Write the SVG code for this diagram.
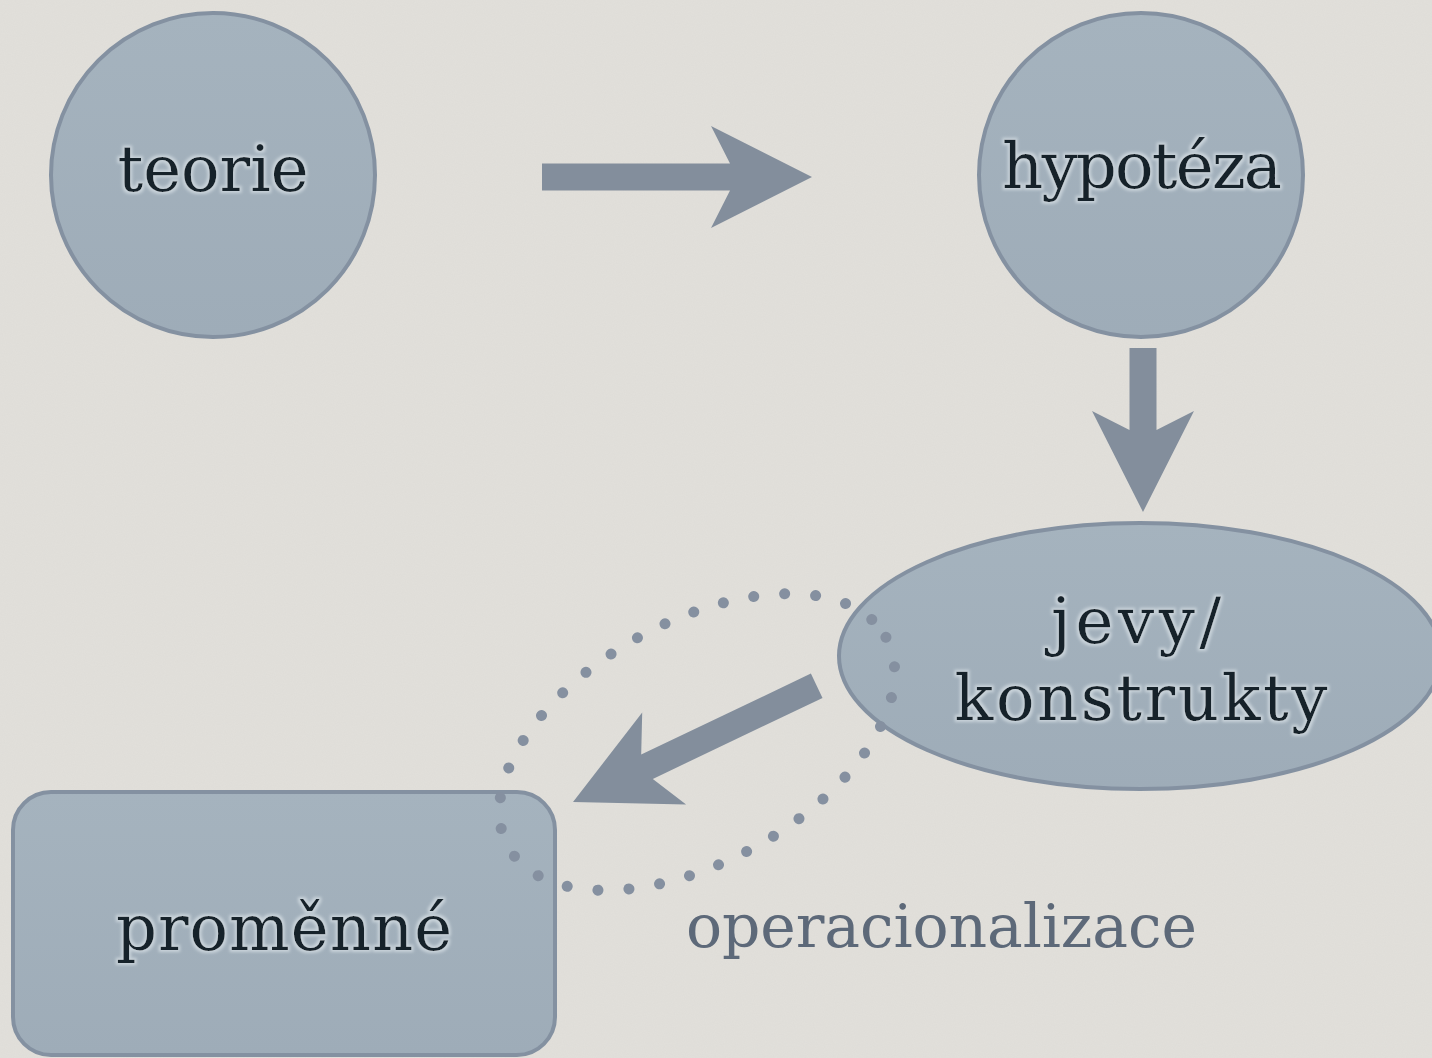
<svg xmlns="http://www.w3.org/2000/svg" width="1432" height="1058" viewBox="0 0 1432 1058">
  <defs>
    <filter id="noise" x="0" y="0" width="100%" height="100%">
      <feTurbulence type="fractalNoise" baseFrequency="0.9" numOctaves="2" seed="3" result="n"/>
      <feColorMatrix in="n" type="matrix" values="0 0 0 0 0.5  0 0 0 0 0.5  0 0 0 0 0.48  0 0 0 0.10 0"/>
    </filter>
    <filter id="glow" x="-10%" y="-20%" width="120%" height="140%">
      <feMorphology in="SourceAlpha" operator="dilate" radius="2" result="d"/>
      <feGaussianBlur in="d" stdDeviation="1.5" result="b"/>
      <feFlood flood-color="#c9d3da" result="c"/>
      <feComposite in="c" in2="b" operator="in" result="g"/>
      <feMerge><feMergeNode in="g"/><feMergeNode in="SourceGraphic"/></feMerge>
    </filter>
    <linearGradient id="nodefill" x1="0" y1="0" x2="0" y2="1">
      <stop offset="0" stop-color="#a5b3be"/>
      <stop offset="1" stop-color="#9eacb8"/>
    </linearGradient>
  </defs>
  <style>
    .node { fill: url(#nodefill); stroke: #8491a1; stroke-width: 4; }
    .label { font-family: "DejaVu Serif", "Liberation Serif", serif; font-size: 64px; fill: #16232c; text-anchor: middle; filter: url(#glow); }
    .arrow { fill: #838e9c; }
    .dots { fill: none; stroke: #8590a0; stroke-width: 11; stroke-linecap: round; stroke-dasharray: 0 31; }
    .note { font-family: "DejaVu Serif", "Liberation Serif", serif; font-size: 60px; fill: #5d6979; }
  </style>

  <rect width="1432" height="1058" fill="#e2e0db"/>
  <rect width="1432" height="1058" filter="url(#noise)"/>

  <g id="teorie">
    <circle class="node" cx="213" cy="175" r="162"/>
    <text class="label" x="213" y="191" textLength="191" lengthAdjust="spacing">teorie</text>
  </g>
  <g id="hypoteza">
    <circle class="node" cx="1141" cy="175" r="162"/>
    <text class="label" x="1142" y="188" textLength="280" lengthAdjust="spacing">hypotéza</text>
  </g>
  <g id="jevy">
    <ellipse class="node" cx="1140" cy="656" rx="301" ry="133"/>
    <text class="label" x="1136" y="643" textLength="170" lengthAdjust="spacing">jevy/</text>
    <text class="label" x="1141" y="720" textLength="373" lengthAdjust="spacing">konstrukty</text>
  </g>
  <g id="promenne">
    <rect class="node" x="13" y="792" width="542" height="263" rx="38" ry="38"/>
    <text class="label" x="284" y="950" textLength="336" lengthAdjust="spacing">proměnné</text>
  </g>

  <g id="connectors">
    <path class="arrow" transform="translate(812,177)" d="M0,0 L-101,-51 L-82,-13.5 L-270,-13.5 L-270,13.5 L-82,13.5 L-101,51 Z"/>
    <path class="arrow" transform="translate(1143,512) rotate(90)" d="M0,0 L-101,-51 L-82,-13.5 L-164,-13.5 L-164,13.5 L-82,13.5 L-101,51 Z"/>
    <path class="arrow" transform="translate(573,802) rotate(154.5)" d="M0,0 L-101,-51 L-82,-13.5 L-270,-13.5 L-270,13.5 L-82,13.5 L-101,51 Z"/>
    <ellipse class="dots" cx="697" cy="742" rx="216" ry="120" transform="rotate(-29 697 742)"/>
  </g>

  <text class="note" x="686" y="947" textLength="511" lengthAdjust="spacing">operacionalizace</text>
</svg>
